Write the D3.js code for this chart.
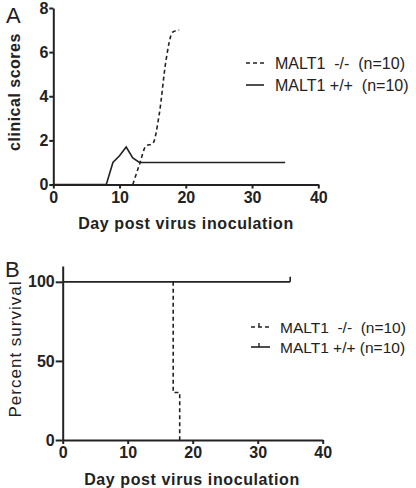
<!DOCTYPE html>
<html>
<head>
<meta charset="utf-8">
<script src="https://cdn.jsdelivr.net/npm/d3@7"></script>
<style>
  body { margin: 0; background: #fff; }
  svg text { font-family: "Liberation Sans", Arial, sans-serif; fill: #222; }
  .axis path, .axis line { stroke: #222; stroke-width: 2; }
  .axis text { font-size: 16px; font-weight: bold; }
</style>
</head>
<body>
<div id="chart"><svg width="416" height="488"></svg></div>
<script>
// ---- data ----
const seriesLabels = ["MALT1  -/-  (n=10)", "MALT1 +/+  (n=10)"];
const survLabels = ["MALT1  -/-  (n=10)", "MALT1 +/+ (n=10)"];

// panel A: clinical scores
const koDays = [0, 12, 13, 14, 15, 16, 17, 18, 19];
const koScores = [0, 0, 0.9, 1.75, 1.85, 3.2, 5.6, 6.9, 7.0];
const wtDays = [0, 8, 9, 10, 11, 12, 13, 35];
const wtScores = [0, 0, 1.0, 1.3, 1.7, 1.2, 1.0, 1.0];

// panel B: survival (step)
const koSurvDays = [0, 17, 18];
const koSurv = [100, 30, 0];
const wtSurvDays = [0, 35];
const wtSurv = [100, 100];

const xTicks = [0, 10, 20, 30, 40];
const yTicksA = [0, 2, 4, 6, 8];
const yTicksB = [0, 50, 100];

const svg = d3.select("#chart").select("svg");

/***** PANEL A *****/
const xA = d3.scaleLinear().domain([0, 40]).range([53.3, 318.3]);
const yA = d3.scaleLinear().domain([0, 8]).range([184.5, 8]);

svg.append("g").attr("class", "axis")
    .attr("transform", `translate(0, ${yA(0)})`)
    .call(d3.axisBottom(xA).tickValues(xTicks).tickSize(4).tickPadding(3).tickSizeOuter(0));

svg.append("g").attr("class", "axis")
    .attr("transform", `translate(${xA(0)}, 0)`)
    .call(d3.axisLeft(yA).tickValues(yTicksA).tickSize(4).tickPadding(1).tickSizeOuter(0));

const lineA = d3.line().x(d => xA(d[0])).y(d => yA(d[1]));

svg.append("path")
    .datum(wtDays.map((d, i) => [d, wtScores[i]]))
    .attr("d", lineA)
    .attr("fill", "none").attr("stroke", "#222").attr("stroke-width", 1.6);

svg.append("path")
    .datum(koDays.map((d, i) => [d, koScores[i]]).filter(d => d[0] >= 12))
    .attr("d", lineA.curve(d3.curveMonotoneX))
    .attr("fill", "none").attr("stroke", "#222").attr("stroke-width", 1.6)
    .attr("stroke-dasharray", "4,3");

svg.append("text").attr("x", 6).attr("y", 23).style("font-size", "22px").text("A");

svg.append("text")
    .attr("transform", "translate(20, 92) rotate(-90)")
    .attr("text-anchor", "middle")
    .style("font-size", "16px").style("font-weight", "bold").style("letter-spacing", "0.5px")
    .text("clinical scores");

svg.append("text")
    .attr("x", 186).attr("y", 229)
    .attr("text-anchor", "middle")
    .style("font-size", "16px").style("font-weight", "bold").style("letter-spacing", "0.6px")
    .text("Day post virus inoculation");

// legend A
const legA = svg.append("g");
seriesLabels.forEach((lab, i) => {
    const y = 63 + i * 22;
    legA.append("line")
        .attr("x1", 246).attr("x2", 264).attr("y1", y).attr("y2", y)
        .attr("stroke", "#222").attr("stroke-width", 1.6)
        .attr("stroke-dasharray", i === 0 ? "4,3" : null);
    legA.append("text")
        .attr("x", 275).attr("y", y + 6)
        .style("font-size", "16px").style("white-space", "pre")
        .text(lab);
});

/***** PANEL B *****/
const xB = d3.scaleLinear().domain([0, 40]).range([62.7, 322.7]);
const yB = d3.scaleLinear().domain([0, 110]).range([440, 266]);

svg.append("g").attr("class", "axis")
    .attr("transform", `translate(0, ${yB(0)})`)
    .call(d3.axisBottom(xB).tickValues(xTicks).tickSize(4).tickPadding(3).tickSizeOuter(0));

svg.append("g").attr("class", "axis")
    .attr("transform", `translate(${xB(0)}, 0)`)
    .call(d3.axisLeft(yB).tickValues(yTicksB).tickSize(7).tickPadding(1).tickSizeOuter(0));

const lineB = d3.line().x(d => xB(d[0])).y(d => yB(d[1])).curve(d3.curveStepAfter);

svg.append("path")
    .datum(wtSurvDays.map((d, i) => [d, wtSurv[i]]))
    .attr("d", lineB)
    .attr("fill", "none").attr("stroke", "#222").attr("stroke-width", 1.8);

// censor tick at end of survivors
svg.append("line")
    .attr("x1", xB(wtSurvDays[1])).attr("x2", xB(wtSurvDays[1]))
    .attr("y1", yB(100)).attr("y2", yB(100) - 5)
    .attr("stroke", "#222").attr("stroke-width", 1.6);

// knockouts: step down from 100 at day 17
const koPts = [[17, 100]].concat(koSurvDays.map((d, i) => [d, koSurv[i]]).filter(d => d[0] >= 17));
svg.append("path")
    .datum(koPts)
    .attr("d", lineB)
    .attr("fill", "none").attr("stroke", "#222").attr("stroke-width", 1.6)
    .attr("stroke-dasharray", "4,3");

svg.append("text").attr("x", 5).attr("y", 277).style("font-size", "22px").text("B");

svg.append("text")
    .attr("transform", "translate(21, 349) rotate(-90)")
    .attr("text-anchor", "middle")
    .style("font-size", "17px").style("letter-spacing", "1px")
    .text("Percent survival");

svg.append("text")
    .attr("x", 192).attr("y", 485)
    .attr("text-anchor", "middle")
    .style("font-size", "16px").style("font-weight", "bold").style("letter-spacing", "0.6px")
    .text("Day post virus inoculation");

// legend B
const legB = svg.append("g");
survLabels.forEach((lab, i) => {
    const y = 327 + i * 20;
    legB.append("line")
        .attr("x1", 251).attr("x2", 270).attr("y1", y).attr("y2", y)
        .attr("stroke", "#222").attr("stroke-width", 1.6)
        .attr("stroke-dasharray", i === 0 ? "4,3" : null);
    legB.append("line")
        .attr("x1", 259).attr("x2", 259).attr("y1", y).attr("y2", y - 4)
        .attr("stroke", "#222").attr("stroke-width", 1.4);
    legB.append("text")
        .attr("x", 280).attr("y", y + 6)
        .style("font-size", "15.5px").style("white-space", "pre")
        .text(lab);
});
</script>
</body>
</html>
